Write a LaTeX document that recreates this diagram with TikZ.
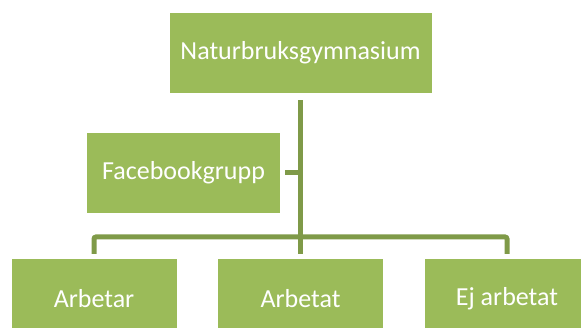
\documentclass[tikz,border=0pt]{standalone}
\usepackage{fontspec}
\setmainfont{Carlito}
\usetikzlibrary{calc}
\definecolor{boxgreen}{HTML}{9BBB59}
\definecolor{linegreen}{HTML}{7F9A48}
\tikzset{
  box/.style={fill=boxgreen, draw=none, text=white, font=\fontsize{26}{30}\selectfont,
    minimum height=80pt, inner sep=0pt, anchor=center},
  conn/.style={draw=linegreen, line width=5pt}
}
\begin{document}
\begin{tikzpicture}[x=1pt,y=-1pt]
\useasboundingbox (0,0) rectangle (581,328);
\node[box, minimum width=262pt] (top) at (300.5,53) {Naturbruksgymnasium};
\node[box, minimum width=193pt] (fb) at (183.5,173) {Facebookgrupp};
\node[box, minimum width=165pt] (a1) at (94,299) {Arbetar};
\node[box, minimum width=165pt] (a2) at (300.5,299) {Arbetat};
\node[box, minimum width=165pt] (a3) at (507,299) {Ej arbetat};
\coordinate (bus) at (300.5,237);
\draw[conn] ([yshift=-7pt]top.south) -- ([yshift=5pt]a2.north);
\draw[conn, rounded corners=2pt] ([yshift=5pt]a1.north) |- (bus) -| ([yshift=5pt]a3.north);
\draw[conn] ([xshift=5pt]fb.east) -- (fb.east -| a2.north);
\end{tikzpicture}
\end{document}
